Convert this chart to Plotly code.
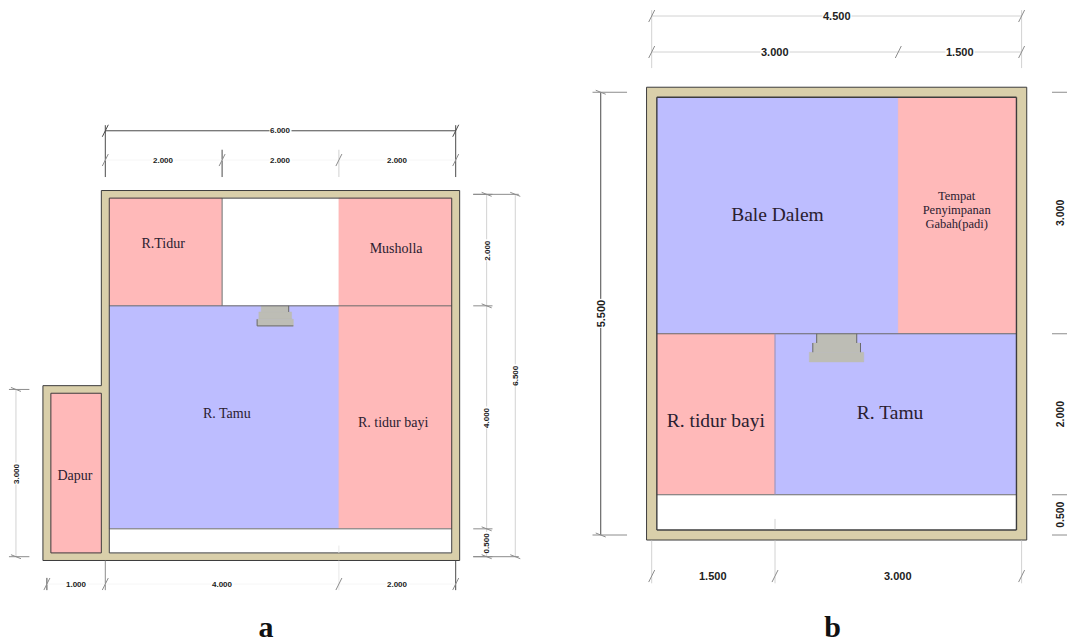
import plotly.graph_objects as go

PINK = "#FFB9B9"
LAV = "#BDBDFF"
WALL = "#D9CFAA"
WHITE = "#FFFFFF"
STAIR = "#BDBDB5"
DARK = "#4A4A4A"
MID = "#8C8C8C"
LIGHT = "#D2D2D2"
FAINT = "#F6F6F6"

# ---------- plan a (metres) ----------
A_WALL = 0.068
A_OUTER = [(-1.068, -0.068), (6.068, -0.068), (6.068, 6.568), (-0.068, 6.568), (-0.068, 3.068), (-1.068, 3.068)]
A_ROOM_X0 = [0.068, 2, 4, 0.068, 4, 0.068, -0.932]
A_ROOM_X1 = [2, 4, 5.932, 4, 5.932, 5.932, -0.068]
A_ROOM_Y0 = [4.5, 4.5, 4.5, 0.5, 0.5, 0.068, 0.068]
A_ROOM_Y1 = [6.432, 6.432, 6.432, 4.5, 4.5, 0.5, 2.932]
A_ROOM_C = [PINK, WHITE, PINK, LAV, PINK, WHITE, PINK]
A_LABELS = ["R.Tidur", "Musholla", "R. Tamu", "R. tidur bayi", "Dapur"]
A_LABEL_X = [0.99, 4.98, 2.08, 4.93, -0.52]
A_LABEL_Y = [5.60, 5.51, 2.55, 2.39, 1.44]
A_STAIR_X0 = [2.67, 2.63, 2.60]
A_STAIR_X1 = [3.14, 3.19, 3.22]
A_STAIR_Y0 = [4.39, 4.26, 4.14]
A_STAIR_Y1 = [4.5, 4.39, 4.26]

# ---------- plan b (metres) ----------
B_WALL = 0.0625
B_ROOM_X0 = [0.0625, 3, 0.0625, 1.5, 0.0625]
B_ROOM_X1 = [3, 4.4375, 1.5, 4.4375, 4.4375]
B_ROOM_Y0 = [2.5, 2.5, 0.5, 0.5, 0.0625]
B_ROOM_Y1 = [5.4375, 5.4375, 2.5, 2.5, 0.5]
B_ROOM_C = [LAV, PINK, PINK, LAV, WHITE]
B_LABELS = ["Bale Dalem", "Tempat", "Penyimpanan", "Gabah(padi)", "R. tidur bayi", "R. Tamu"]
B_LABEL_X = [1.53, 3.71, 3.71, 3.71, 0.78, 2.90]
B_LABEL_Y = [3.955, 4.20, 4.025, 3.85, 1.405, 1.505]
B_LABEL_SIZE = [19.5, 12.5, 12.5, 12.5, 19.5, 19.5]
B_STAIR_X0 = [2.007, 1.96, 1.917]
B_STAIR_X1 = [2.494, 2.54, 2.58]
B_STAIR_Y0 = [2.385, 2.27, 2.15]
B_STAIR_Y1 = [2.5, 2.385, 2.27]

# ---------- axis calibration: pixel of metre 0 and pixels per metre ----------
W, H = 1067, 642
SPLIT = 533.5
A_X0, A_SX, A_Y0, A_SY = 105.3, 58.4, 556.7, 55.75
B_X0, B_SX, B_Y0, B_SY = 651.7, 82.2, 535.0, 80.5

fig = go.Figure()


def poly(pts, color, ax, line=None):
    xs = [p[0] for p in pts] + [pts[0][0]]
    ys = [p[1] for p in pts] + [pts[0][1]]
    fig.add_trace(go.Scatter(x=xs, y=ys, xaxis=ax[0], yaxis=ax[1], mode="lines", fill="toself",
                             fillcolor=color, line=dict(color=line or color, width=1 if line else 0.5),
                             hoverinfo="skip"))


def rect(x0, x1, y0, y1):
    return [(x0, y0), (x1, y0), (x1, y1), (x0, y1)]


def lines(segs, color, width, ax):
    xs, ys = [], []
    for s in segs:
        xs += [s[0], s[2], None]
        ys += [s[1], s[3], None]
    fig.add_trace(go.Scatter(x=xs, y=ys, xaxis=ax[0], yaxis=ax[1], mode="lines",
                             line=dict(color=color, width=width), hoverinfo="skip"))


AX_A = ("x", "y")
AX_B = ("x2", "y2")

# plan a walls, rooms
poly(A_OUTER, WALL, AX_A, "#3C3C3C")
for i in range(len(A_ROOM_C)):
    poly(rect(A_ROOM_X0[i], A_ROOM_X1[i], A_ROOM_Y0[i], A_ROOM_Y1[i]), A_ROOM_C[i], AX_A)
for i in range(3):
    poly(rect(A_STAIR_X0[i], A_STAIR_X1[i], A_STAIR_Y0[i], A_STAIR_Y1[i]), STAIR, AX_A)
h = A_WALL
lines([(h, 4.5, 6 - h, 4.5), (2, 4.5, 2, 6.5 - h), (h, 0.5, 6 - h, 0.5),
       (A_STAIR_X0[2], A_STAIR_Y0[2], A_STAIR_X1[2], A_STAIR_Y0[2]),
       (A_STAIR_X0[2], A_STAIR_Y0[2], A_STAIR_X0[2], A_STAIR_Y1[2]),
       (A_STAIR_X1[0], A_STAIR_Y0[0], A_STAIR_X1[0], A_STAIR_Y1[0])], "#6A6A6A", 1, AX_A)
lines([(h, h, 6 - h, h), (6 - h, h, 6 - h, 6.5 - h), (6 - h, 6.5 - h, h, 6.5 - h), (h, 6.5 - h, h, h),
       (-1 + h, h, -h, h), (-h, h, -h, 3 - h), (-h, 3 - h, -1 + h, 3 - h), (-1 + h, 3 - h, -1 + h, h)],
      "#3C3C3C", 1, AX_A)

# plan b walls, rooms
poly(rect(-0.0625, 4.5625, -0.0625, 5.5625), WALL, AX_B, "#3C3C3C")
for i in range(len(B_ROOM_C)):
    poly(rect(B_ROOM_X0[i], B_ROOM_X1[i], B_ROOM_Y0[i], B_ROOM_Y1[i]), B_ROOM_C[i], AX_B)
for i in range(3):
    poly(rect(B_STAIR_X0[i], B_STAIR_X1[i], B_STAIR_Y0[i], B_STAIR_Y1[i]), STAIR, AX_B)
h = B_WALL
lines([(h, 2.5, 4.5 - h, 2.5), (h, 0.5, 4.5 - h, 0.5),
       (B_STAIR_X0[0], B_STAIR_Y0[0], B_STAIR_X0[0], B_STAIR_Y1[0]),
       (B_STAIR_X1[0], B_STAIR_Y0[0], B_STAIR_X1[0], B_STAIR_Y1[0]),
       (B_STAIR_X0[1], B_STAIR_Y0[1], B_STAIR_X0[1], B_STAIR_Y1[1]),
       (B_STAIR_X1[1], B_STAIR_Y0[1], B_STAIR_X1[1], B_STAIR_Y1[1])], "#6A6A6A", 1, AX_B)
lines([(1.5, 0.5, 1.5, 2.5)], "#9A8FB0", 1, AX_B)
lines([(h, h, 4.5 - h, h), (4.5 - h, h, 4.5 - h, 5.5 - h), (4.5 - h, 5.5 - h, h, 5.5 - h), (h, 5.5 - h, h, h)],
      "#3C3C3C", 1.4, AX_B)

# ---------- dimension chains ----------
annotations = []


def note(x, y, text, size, ax, angle=0):
    annotations.append(dict(x=x, y=y, xref=ax[0], yref=ax[1], text=text, showarrow=False, textangle=angle,
                            font=dict(family="Liberation Sans", size=size, color="#222222", weight="bold"),
                            bgcolor="white", borderpad=0))


def hchain(y, breaks, labels, size, ax, dim_c, tick_c, sx, sy):
    lines([(breaks[0], y, breaks[-1], y)], dim_c, 1, ax)
    lines([(b - 3 / sx, y - 6 / sy, b + 3 / sx, y + 6 / sy) for b in breaks], tick_c, 1, ax)
    for i, t in enumerate(labels):
        note((breaks[i] + breaks[i + 1]) / 2, y, t, size, ax)


def vchain(x, breaks, labels, xlo, xhi, size, ax, dim_c, ext_c, tick_c, sx, sy):
    lines([(x, breaks[0], x, breaks[-1])], dim_c, 1, ax)
    if tick_c:
        lines([(x - 5 / sx, b + 2 / sy, x + 5 / sx, b - 2 / sy) for b in breaks], tick_c, 1, ax)
    lines([(xlo, b, xhi, b) for b in breaks], ext_c, 1, ax)
    for i, t in enumerate(labels):
        note(x, (breaks[i] + breaks[i + 1]) / 2, t, size, ax, -90)


# plan a: extension lines, then chains
lines([(0, 6.81, 0, 7.74), (6, 6.81, 6, 7.74), (2, 6.81, 2, 7.3)], DARK, 1, AX_A)
lines([(4, 6.81, 4, 7.3)], LIGHT, 1, AX_A)
lines([(-1, -0.6, -1, -0.38), (6, -0.07, 6, -0.6)], DARK, 1, AX_A)
lines([(0, -0.07, 0, -0.6)], MID, 1, AX_A)
lines([(4, 0.2, 4, 0.07), (4, -0.07, 4, -0.6)], "#E8E8E8", 1, AX_A)
hchain(7.64, [0, 6], ["6.000"], 8, AX_A, DARK, DARK, A_SX, A_SY)
hchain(7.115, [0, 2, 4, 6], ["2.000", "2.000", "2.000"], 8, AX_A, FAINT, MID, A_SX, A_SY)
hchain(-0.49, [-1, 0, 4, 6], ["1.000", "4.000", "2.000"], 8, AX_A, FAINT, MID, A_SX, A_SY)
vchain(6.53, [0, 0.5, 4.5, 6.5], ["0.500", "4.000", "2.000"], 6.3, 6.63, 8, AX_A, LIGHT, MID, MID, A_SX, A_SY)
vchain(7.02, [0, 6.5], ["6.500"], 6.3, 7.08, 8, AX_A, LIGHT, MID, MID, A_SX, A_SY)
vchain(-1.53, [0, 3], ["3.000"], -1.65, -1.3, 8, AX_A, LIGHT, MID, MID, A_SX, A_SY)

# plan b: extension lines, then chains
lines([(0, 5.8, 0, 6.52), (4.5, 5.8, 4.5, 6.52)], LIGHT, 1, AX_B)
lines([(0, -0.07, 0, -0.6), (1.5, 0.2, 1.5, 0.07), (1.5, -0.07, 1.5, -0.6), (4.5, -0.07, 4.5, -0.6)], LIGHT, 1, AX_B)
hchain(6.447, [0, 4.5], ["4.500"], 11, AX_B, LIGHT, MID, B_SX, B_SY)
hchain(6.0, [0, 3, 4.5], ["3.000", "1.500"], 11, AX_B, LIGHT, MID, B_SX, B_SY)
hchain(-0.51, [0, 1.5, 4.5], ["1.500", "3.000"], 11, AX_B, WHITE, MID, B_SX, B_SY)
vchain(-0.62, [0, 5.5], ["5.500"], -0.72, -0.3, 11, AX_B, DARK, MID, MID, B_SX, B_SY)
vchain(4.967, [0, 0.5, 2.5, 5.5], ["0.500", "2.000", "3.000"], 4.87, 5.2, 10.5, AX_B, WHITE, MID, None, B_SX, B_SY)

# ---------- room labels and panel letters ----------
fig.add_trace(go.Scatter(x=A_LABEL_X, y=A_LABEL_Y, text=A_LABELS, mode="text", hoverinfo="skip",
                         textfont=dict(family="Liberation Serif", size=14, color="#2A2030")))
fig.add_trace(go.Scatter(x=B_LABEL_X, y=B_LABEL_Y, text=B_LABELS, xaxis="x2", yaxis="y2", mode="text",
                         hoverinfo="skip",
                         textfont=dict(family="Liberation Serif", size=B_LABEL_SIZE, color="#2A2030")))
fig.add_trace(go.Scatter(x=[2.75], y=[-1.30], text=["a"], mode="text", hoverinfo="skip",
                         textfont=dict(family="Liberation Serif", size=30, color="#111111", weight="bold")))
fig.add_trace(go.Scatter(x=[2.2], y=[-1.175], text=["b"], xaxis="x2", yaxis="y2", mode="text", hoverinfo="skip",
                         textfont=dict(family="Liberation Serif", size=30, color="#111111", weight="bold")))

frac = SPLIT / W
hidden = dict(visible=False, showgrid=False, zeroline=False, fixedrange=True)
fig.update_layout(
    width=W, height=H, margin=dict(l=0, r=0, t=0, b=0), showlegend=False,
    paper_bgcolor="white", plot_bgcolor="white", annotations=annotations, hovermode=False,
    xaxis=dict(domain=[0, frac], range=[-A_X0 / A_SX, (SPLIT - A_X0) / A_SX], **hidden),
    yaxis=dict(domain=[0, 1], range=[(A_Y0 - H) / A_SY, A_Y0 / A_SY], **hidden),
    xaxis2=dict(domain=[frac, 1], range=[(SPLIT - B_X0) / B_SX, (W - B_X0) / B_SX], **hidden),
    yaxis2=dict(domain=[0, 1], range=[(B_Y0 - H) / B_SY, B_Y0 / B_SY], anchor="x2", **hidden),
)
fig.write_html("out.html", config={"displayModeBar": False},
               post_script="document.body.style.margin='0';document.documentElement.style.overflow='hidden';")
